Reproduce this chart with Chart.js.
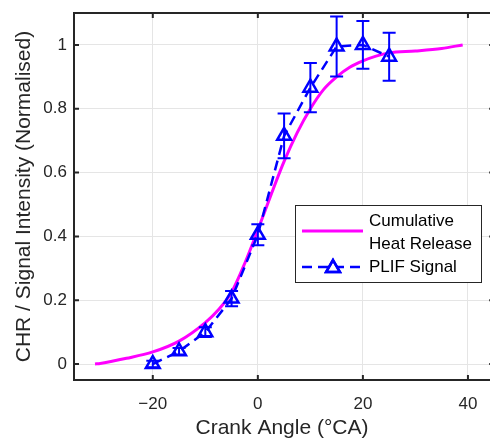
<!DOCTYPE html>
<html>
<head>
<meta charset="utf-8">
<script src="https://cdn.jsdelivr.net/npm/chart.js@4/dist/chart.umd.min.js"></script>
<style>
html, body { margin: 0; padding: 0; background: #fff; overflow: hidden; }
</style>
</head>
<body>
<canvas id="chrChart" width="490" height="441"></canvas>
<script>
// cumulative heat release curve
const chrAngle = [-31, -30, -25, -20, -15, -10, -7.5, -5, -2.5, 0, 2.5, 5, 7.5, 10, 12.5, 15, 17.5, 20, 22.5, 25, 30, 35, 39];
const chrValue = [0, 0.002, 0.018, 0.038, 0.072, 0.13, 0.17, 0.225, 0.315, 0.42, 0.53, 0.635, 0.725, 0.8, 0.86, 0.9, 0.93, 0.95, 0.965, 0.975, 0.981, 0.989, 1.0];

// PLIF signal with error bars
const plifAngle = [-20, -15, -10, -5, 0, 5, 10, 15, 20, 25];
const plifValue = [0, 0.04, 0.10, 0.205, 0.405, 0.715, 0.866, 0.995, 1.0, 0.963];
const plifError = [0.01, 0.01, 0.015, 0.024, 0.033, 0.07, 0.077, 0.094, 0.075, 0.075];

const xTicks = [-20, 0, 20, 40];
const yTicks = [0, 0.2, 0.4, 0.6, 0.8, 1];

const legendLabels = [["Cumulative", "Heat Release"], ["PLIF Signal"]];
const xTitle = "Crank Angle (\u00B0CA)";
const yTitle = "CHR / Signal Intensity (Normalised)";

const FONT = "'Liberation Sans', Arial, sans-serif";
const AXIS = '#262626';
const PINK = '#ff00ff';
const BLUE = '#0000ff';


// error bars + axes box with inward ticks
// (the real box goes to 45 deg, a few px past the right edge of the picture)
const frameAndErrors = {
  id: 'frameAndErrors',
  afterDatasetsDraw(chart) {
    const {ctx, chartArea: a, scales: {x, y}} = chart;
    const rightEdge = x.getPixelForValue(45);
    ctx.save();

    ctx.strokeStyle = BLUE;
    ctx.lineWidth = 2;
    plifAngle.forEach((ang, i) => {
      const px = x.getPixelForValue(ang);
      const top = y.getPixelForValue(plifValue[i] + plifError[i]);
      const bot = y.getPixelForValue(plifValue[i] - plifError[i]);
      ctx.beginPath();
      ctx.moveTo(px, top); ctx.lineTo(px, bot);
      ctx.moveTo(px - 6.5, top); ctx.lineTo(px + 6.5, top);
      ctx.moveTo(px - 6.5, bot); ctx.lineTo(px + 6.5, bot);
      ctx.stroke();
    });

    ctx.strokeStyle = AXIS;
    ctx.lineWidth = 2;
    ctx.beginPath();
    xTicks.forEach(v => {
      const px = x.getPixelForValue(v);
      ctx.moveTo(px, a.bottom); ctx.lineTo(px, a.bottom - 5);
      ctx.moveTo(px, a.top); ctx.lineTo(px, a.top + 5);
    });
    yTicks.forEach(v => {
      const py = y.getPixelForValue(v);
      ctx.moveTo(a.left, py); ctx.lineTo(a.left + 5, py);
      ctx.moveTo(rightEdge, py); ctx.lineTo(rightEdge - 5, py);
    });
    ctx.moveTo(a.left, a.bottom); ctx.lineTo(a.left, a.top);
    ctx.moveTo(a.left - 1, a.top); ctx.lineTo(rightEdge, a.top);
    ctx.moveTo(a.left - 1, a.bottom); ctx.lineTo(rightEdge, a.bottom);
    ctx.stroke();

    ctx.restore();
  }
};


// legend box like the matlab one
const boxLegend = {
  id: 'boxLegend',
  afterDraw(chart) {
    const ctx = chart.ctx;
    ctx.save();

    ctx.fillStyle = '#fff';
    ctx.fillRect(295.5, 205.5, 186, 77);
    ctx.strokeStyle = AXIS;
    ctx.lineWidth = 1;
    ctx.strokeRect(295.5, 205.5, 186, 77);

    // pink line sample
    ctx.strokeStyle = PINK;
    ctx.lineWidth = 3;
    ctx.beginPath();
    ctx.moveTo(302, 231); ctx.lineTo(363, 231);
    ctx.stroke();

    // blue dashed sample with triangle
    ctx.strokeStyle = BLUE;
    ctx.lineWidth = 2.5;
    ctx.setLineDash([10, 6]);
    ctx.beginPath();
    ctx.moveTo(302, 267); ctx.lineTo(363, 267);
    ctx.stroke();
    ctx.setLineDash([]);
    ctx.fillStyle = '#fff';
    Chart.helpers.drawPoint(ctx, {pointStyle: 'triangle', radius: 8, borderWidth: 2.5}, 333, 268);
    ctx.stroke();

    ctx.fillStyle = '#000';
    ctx.font = "17px " + FONT;
    ctx.textAlign = 'left';
    ctx.textBaseline = 'middle';
    ctx.fillText(legendLabels[0][0], 369, 221);
    ctx.fillText(legendLabels[0][1], 369, 244);
    ctx.fillText(legendLabels[1][0], 369, 267);

    ctx.restore();
  }
};


const ctx = document.getElementById('chrChart').getContext('2d');

new Chart(ctx, {

type: 'line',

data: {
datasets: [
{
label: 'PLIF Signal',
data: plifAngle.map((a, i) => ({x: a, y: plifValue[i]})),
borderColor: BLUE,
borderWidth: 2.5,
borderDash: [10, 6],
pointStyle: 'triangle',
pointRadius: 8,
pointBorderWidth: 2.5,
pointBorderColor: BLUE,
pointBackgroundColor: 'rgba(0,0,0,0)',
tension: 0
},
{
label: 'Cumulative Heat Release',
data: chrAngle.map((a, i) => ({x: a, y: chrValue[i]})),
borderColor: PINK,
borderWidth: 3,
pointRadius: 0,
cubicInterpolationMode: 'monotone'
}
]
},

options: {

responsive: false,
animation: false,

layout: {
autoPadding: false,
padding: {
left: 0,
right: 0,
top: 13,
bottom: 0
}
},

plugins: {
legend: { display: false },
tooltip: { enabled: false }
},

scales: {

x: {
type: 'linear',
min: -35,
max: 44.2,
afterBuildTicks: s => { s.ticks = xTicks.map(v => ({value: v})); },
afterFit: s => { s.height = 61; s.paddingLeft = 0; s.paddingRight = 0; },
grid: { color: '#e5e5e5', lineWidth: 1, drawTicks: false },
border: { display: false },
ticks: {
padding: 14,
color: AXIS,
font: { family: FONT, size: 17 },
callback: v => v < 0 ? '\u2212' + Math.abs(v) : String(v)
},
title: {
display: true,
text: xTitle,
color: AXIS,
font: { family: FONT, size: 21 },
padding: { top: 0, bottom: 0 }
}
},

y: {
min: -0.05,
max: 1.1,
afterBuildTicks: s => { s.ticks = yTicks.map(v => ({value: v})); },
afterFit: s => { s.width = 74; s.paddingTop = 0; s.paddingBottom = 0; },
grid: { color: '#e5e5e5', lineWidth: 1, drawTicks: false },
border: { display: false },
ticks: {
padding: 7,
color: AXIS,
font: { family: FONT, size: 17 },
callback: v => String(v)
},
title: {
display: true,
text: yTitle,
color: AXIS,
font: { family: FONT, size: 21 },
padding: { top: 12, bottom: 0 }
}
}

}

},

plugins: [frameAndErrors, boxLegend]

});
</script>
</body>
</html>
